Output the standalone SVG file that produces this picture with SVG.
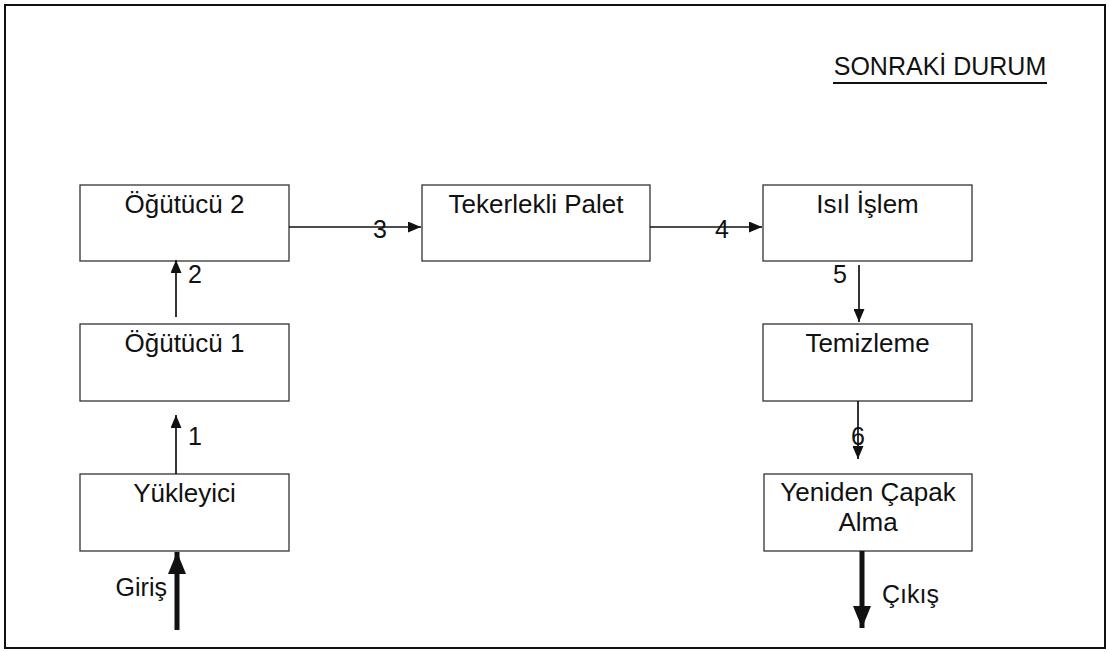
<svg xmlns="http://www.w3.org/2000/svg" width="1109" height="652" viewBox="0 0 1109 652">
  <style>
    .box { fill: #ffffff; stroke: #333333; stroke-width: 1.3; }
    .lbl { font-family: "Liberation Sans", Arial, sans-serif; font-size: 26px; fill: #111111; text-anchor: middle; }
    .ttl { font-family: "Liberation Sans", Arial, sans-serif; font-size: 25px; fill: #111111; text-anchor: middle; }
    .num { font-family: "Liberation Sans", Arial, sans-serif; font-size: 25px; fill: #111111; }
    .thin { stroke: #111111; stroke-width: 1.7; fill: none; }
    .thick { stroke: #111111; stroke-width: 5; fill: none; }
  </style>
  <defs>
    <marker id="arr" viewBox="0 0 10 10" refX="10" refY="5" markerWidth="13" markerHeight="11" markerUnits="userSpaceOnUse" orient="auto" preserveAspectRatio="none">
      <path d="M0,0 L10,5 L0,10 z" fill="#111111"/>
    </marker>
    <marker id="arrBig" viewBox="0 0 10 10" refX="10" refY="5" markerWidth="22" markerHeight="18" markerUnits="userSpaceOnUse" orient="auto" preserveAspectRatio="none">
      <path d="M0,0 L10,5 L0,10 z" fill="#111111"/>
    </marker>
  </defs>

  <rect width="1109" height="652" fill="#ffffff"/>
  <!-- outer frame -->
  <rect x="5" y="5" width="1100" height="643" fill="none" stroke="#111111" stroke-width="2"/>

  <!-- title -->
  <g id="title">
    <text class="ttl" x="940" y="75">SONRAKİ DURUM</text>
    <line x1="833" y1="83" x2="1047" y2="83" stroke="#111111" stroke-width="1.8"/>
  </g>

  <!-- nodes -->
  <g id="ogutucu2">
    <rect class="box" x="80" y="185" width="209" height="76"/>
    <text class="lbl" x="184.5" y="213">Öğütücü 2</text>
  </g>
  <g id="tekerlekli-palet">
    <rect class="box" x="422" y="185" width="228" height="76"/>
    <text class="lbl" x="536" y="213">Tekerlekli Palet</text>
  </g>
  <g id="isil-islem">
    <rect class="box" x="763" y="185" width="209" height="76"/>
    <text class="lbl" x="867.5" y="213">Isıl İşlem</text>
  </g>
  <g id="ogutucu1">
    <rect class="box" x="80" y="324" width="209" height="77"/>
    <text class="lbl" x="184.5" y="352">Öğütücü 1</text>
  </g>
  <g id="temizleme">
    <rect class="box" x="763" y="324" width="209" height="77"/>
    <text class="lbl" x="867.5" y="352">Temizleme</text>
  </g>
  <g id="yukleyici">
    <rect class="box" x="80" y="474" width="209" height="77"/>
    <text class="lbl" x="184.5" y="502">Yükleyici</text>
  </g>
  <g id="yeniden-capak-alma">
    <rect class="box" x="764" y="474" width="208" height="77"/>
    <text class="lbl" x="868" y="501">Yeniden Çapak</text>
    <text class="lbl" x="868" y="531">Alma</text>
  </g>

  <!-- connectors -->
  <g id="connectors">
    <line class="thin" x1="176" y1="474" x2="176" y2="415" marker-end="url(#arr)"/>
    <text class="num" x="188" y="445">1</text>

    <line class="thin" x1="176" y1="317" x2="176" y2="260" marker-end="url(#arr)"/>
    <text class="num" x="188" y="283">2</text>

    <line class="thin" x1="289" y1="227" x2="421" y2="227" marker-end="url(#arr)"/>
    <text class="num" x="373" y="238">3</text>

    <line class="thin" x1="650" y1="227" x2="762" y2="227" marker-end="url(#arr)"/>
    <text class="num" x="715" y="238">4</text>

    <line class="thin" x1="859" y1="265" x2="859" y2="322" marker-end="url(#arr)"/>
    <text class="num" x="833" y="283">5</text>

    <line class="thin" x1="858" y1="401" x2="858" y2="459" marker-end="url(#arr)"/>
    <text class="num" x="851" y="445">6</text>

    <line class="thick" x1="177" y1="630" x2="177" y2="552" marker-end="url(#arrBig)"/>
    <text class="num" x="167" y="596" text-anchor="end">Giriş</text>

    <line class="thick" x1="862" y1="551" x2="862" y2="628" marker-end="url(#arrBig)"/>
    <text class="num" x="882" y="603">Çıkış</text>
  </g>
</svg>
